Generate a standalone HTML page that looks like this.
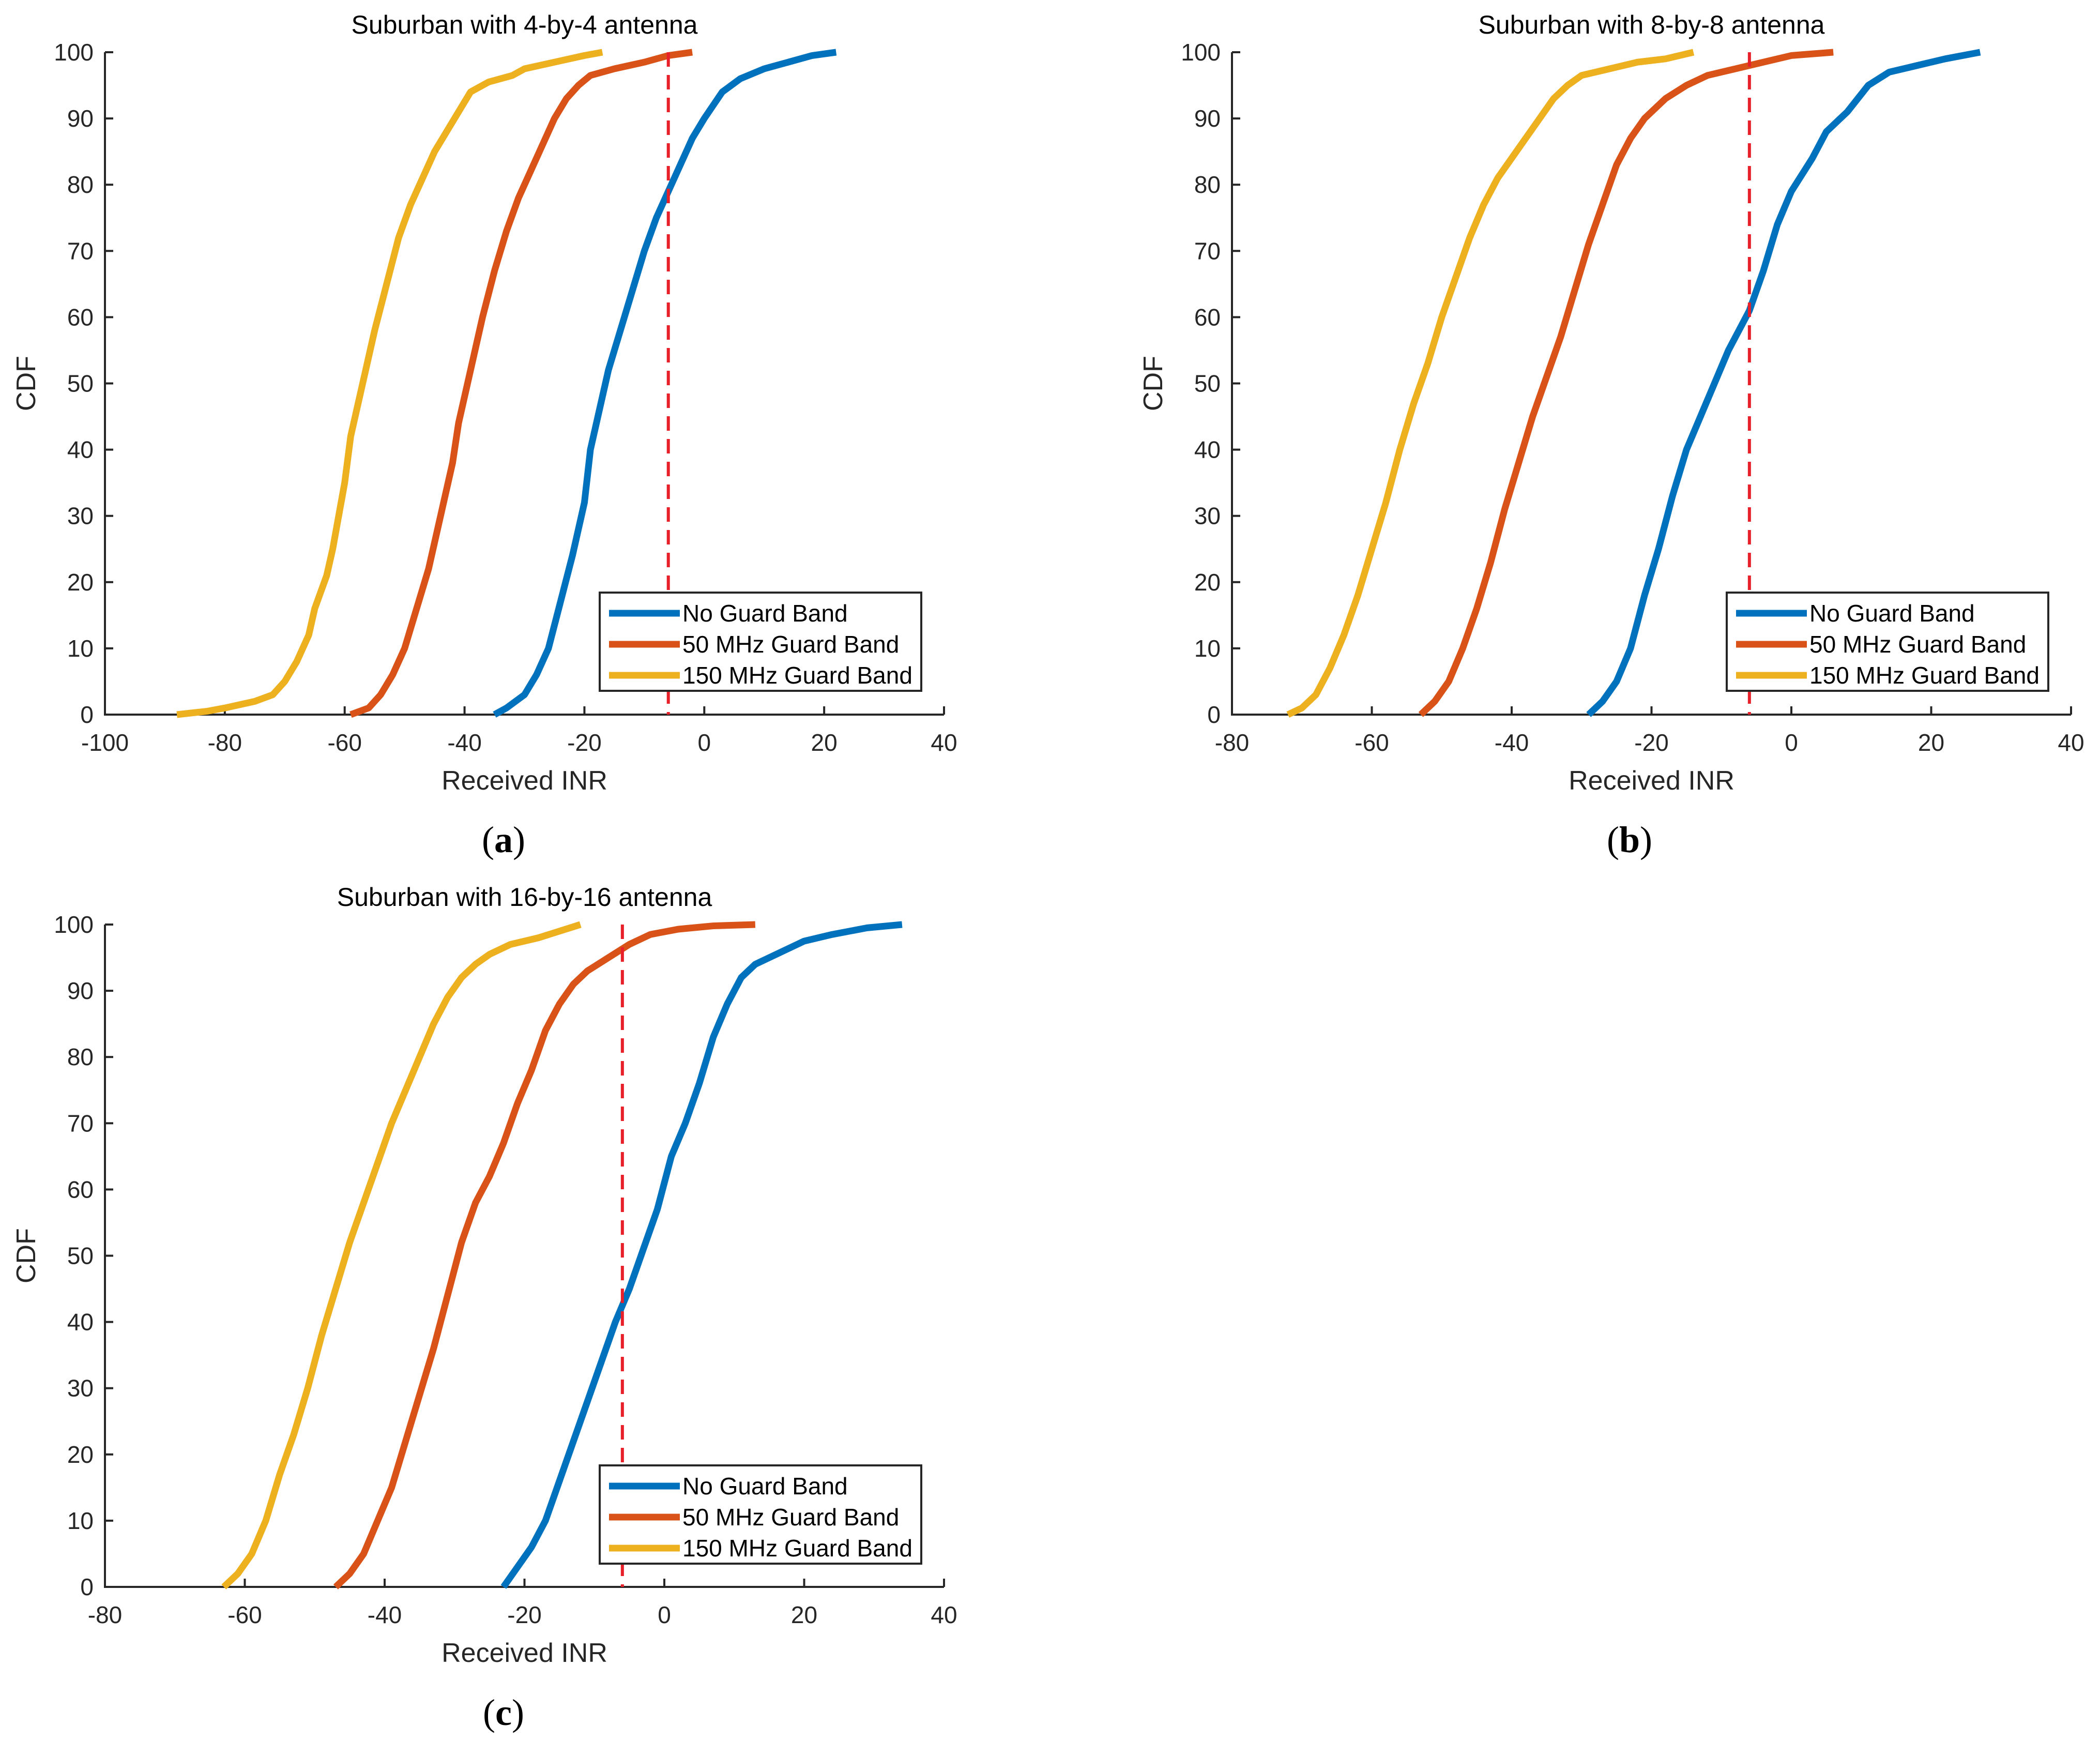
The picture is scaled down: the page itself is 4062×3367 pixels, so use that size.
<!DOCTYPE html>
<html><head><meta charset="utf-8"><style>
html,body{margin:0;padding:0;background:#fff;}
svg{display:block;}
text{font-family:"Liberation Sans",sans-serif;fill:#262626;}
</style></head><body>
<svg id="s" width="4062" height="3367" xmlns="http://www.w3.org/2000/svg"></svg>
<script>
const S=document.getElementById('s');let h='';
const C={b:'#0072BD',o:'#D95319',y:'#EDB120'};
function panel(o){
 const {L,T,W,H,xmin,xmax,title,cap,capY,leg}=o;
 const X=v=>L+(v-xmin)/(xmax-xmin)*W, Y=v=>T+H-v/100*H;
 h+=`<path d="M${L},${T}V${T+H}H${L+W}" fill="none" stroke="#262626" stroke-width="4"/>`;
 for(let v=0;v<=100;v+=10){const y=Y(v);h+=`<line x1="${L}" x2="${L+16}" y1="${y}" y2="${y}" stroke="#262626" stroke-width="4"/><text x="${L-22}" y="${y+16}" font-size="46" text-anchor="end">${v}</text>`;}
 for(let v=xmin;v<=xmax;v+=20){const x=X(v);h+=`<line x1="${x}" x2="${x}" y1="${T+H}" y2="${T+H-16}" stroke="#262626" stroke-width="4"/><text x="${x}" y="${T+H+70}" font-size="46" text-anchor="middle">${v}</text>`;}
 h+=`<text x="${L+W/2}" y="${T+H+145}" font-size="52" text-anchor="middle">Received INR</text>`;
 h+=`<text transform="translate(${L-135},${T+H/2}) rotate(-90)" font-size="52" text-anchor="middle">CDF</text>`;
 h+=`<text x="${L+W/2}" y="${T-36}" font-size="50" text-anchor="middle" style="fill:#000">${title}</text>`;
 for(const [k,pts] of o.series){h+=`<polyline fill="none" stroke="${C[k]}" stroke-width="13" stroke-linejoin="round" points="${pts.map(p=>X(p[0])+','+Y(p[1])).join(' ')}"/>`;}
 h+=`<line x1="${X(-6)}" x2="${X(-6)}" y1="${T}" y2="${T+H}" stroke="#E8202A" stroke-width="6" stroke-dasharray="28,16"/>`;
 const [lx,ly]=leg;
 h+=`<rect x="${lx}" y="${ly}" width="622" height="190" fill="#fff" stroke="#262626" stroke-width="4"/>`;
 const names=['No Guard Band','50 MHz Guard Band','150 MHz Guard Band'];['b','o','y'].forEach((k,i)=>{const yy=ly+40+i*60;
 h+=`<line x1="${lx+18}" x2="${lx+155}" y1="${yy}" y2="${yy}" stroke="${C[k]}" stroke-width="13"/><text x="${lx+160}" y="${yy+16}" font-size="46" style="fill:#000">${names[i]}</text>`;});
 h+=`<text x="${o.capX}" y="${capY}" font-size="72" text-anchor="middle" style="font-family:'Liberation Serif',serif;fill:#000">(<tspan font-weight="bold">${cap}</tspan>)</text>`;
}
panel({L:203,T:101,W:1623,H:1281,xmin:-100,xmax:40,title:'Suburban with 4-by-4 antenna',cap:'a',capX:974,capY:1648,leg:[1160,1146],series:[
['y',[[-88,0],[-83,0.5],[-80,1],[-75,2],[-72,3],[-70,5],[-68,8],[-66,12],[-65,16],[-63,21],[-62,25],[-61,30],[-60,35],[-59,42],[-57,50],[-55,58],[-53,65],[-51,72],[-49,77],[-47,81],[-45,85],[-43,88],[-41,91],[-39,94],[-36,95.5],[-32,96.5],[-30,97.5],[-25,98.5],[-20,99.5],[-17,100]]],
['o',[[-59,0],[-56,1],[-54,3],[-52,6],[-50,10],[-48,16],[-46,22],[-44,30],[-42,38],[-41,44],[-39,52],[-37,60],[-35,67],[-33,73],[-31,78],[-29,82],[-27,86],[-25,90],[-23,93],[-21,95],[-19,96.5],[-15,97.5],[-10,98.5],[-6,99.5],[-2,100]]],
['b',[[-35,0],[-33,1],[-30,3],[-28,6],[-26,10],[-24,17],[-22,24],[-20,32],[-19,40],[-17,48],[-16,52],[-14,58],[-12,64],[-10,70],[-8,75],[-6,79],[-4,83],[-2,87],[0,90],[3,94],[6,96],[10,97.5],[14,98.5],[18,99.5],[22,100]]]]});
panel({L:2383,T:101,W:1623,H:1281,xmin:-80,xmax:40,title:'Suburban with 8-by-8 antenna',cap:'b',capX:3152,capY:1648,leg:[3340,1146],series:[
['y',[[-72,0],[-70,1],[-68,3],[-66,7],[-64,12],[-62,18],[-60,25],[-58,32],[-56,40],[-54,47],[-52,53],[-50,60],[-48,66],[-46,72],[-44,77],[-42,81],[-40,84],[-38,87],[-36,90],[-34,93],[-32,95],[-30,96.5],[-26,97.5],[-22,98.5],[-18,99],[-14,100]]],
['o',[[-53,0],[-51,2],[-49,5],[-47,10],[-45,16],[-43,23],[-41,31],[-39,38],[-37,45],[-35,51],[-33,57],[-31,64],[-29,71],[-27,77],[-25,83],[-23,87],[-21,90],[-18,93],[-15,95],[-12,96.5],[-8,97.5],[-4,98.5],[0,99.5],[6,100]]],
['b',[[-29,0],[-27,2],[-25,5],[-23,10],[-21,18],[-19,25],[-17,33],[-15,40],[-13,45],[-11,50],[-9,55],[-6,61],[-4,67],[-2,74],[0,79],[3,84],[5,88],[8,91],[11,95],[14,97],[18,98],[22,99],[27,100]]]]});
panel({L:203,T:1788,W:1623,H:1281,xmin:-80,xmax:40,title:'Suburban with 16-by-16 antenna',cap:'c',capX:974,capY:3336,leg:[1160,2834],series:[
['y',[[-63,0],[-61,2],[-59,5],[-57,10],[-55,17],[-53,23],[-51,30],[-49,38],[-47,45],[-45,52],[-43,58],[-41,64],[-39,70],[-37,75],[-35,80],[-33,85],[-31,89],[-29,92],[-27,94],[-25,95.5],[-22,97],[-18,98],[-15,99],[-12,100]]],
['o',[[-47,0],[-45,2],[-43,5],[-41,10],[-39,15],[-37,22],[-35,29],[-33,36],[-31,44],[-29,52],[-27,58],[-25,62],[-23,67],[-21,73],[-19,78],[-17,84],[-15,88],[-13,91],[-11,93],[-8,95],[-5,97],[-2,98.5],[2,99.3],[7,99.8],[13,100]]],
['b',[[-23,0],[-21,3],[-19,6],[-17,10],[-15,16],[-13,22],[-11,28],[-9,34],[-7,40],[-5,45],[-3,51],[-1,57],[1,65],[3,70],[5,76],[7,83],[9,88],[11,92],[13,94],[16,95.5],[20,97.5],[24,98.5],[29,99.5],[34,100]]]]});
S.innerHTML=h;
</script>
</body></html>
